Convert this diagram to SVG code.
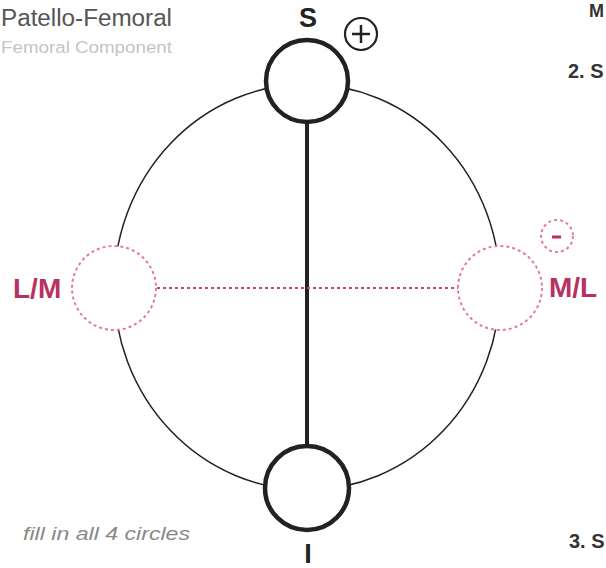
<svg xmlns="http://www.w3.org/2000/svg" width="606" height="568" viewBox="0 0 606 568">
<style>
.t{font-family:"Liberation Sans",Arial,sans-serif}
.b{font-weight:bold}
.pk{fill:#b8325f}
.dash{fill:#fff;stroke:#e27a9c;stroke-width:2;stroke-dasharray:3 3}
.thick{fill:#fff;stroke:#222;stroke-width:4.5}
</style>
<rect width="606" height="568" fill="#fff"/>
<g id="titles">
<text class="t" x="1" y="26" font-size="23" fill="#555" textLength="171" lengthAdjust="spacingAndGlyphs">Patello-Femoral</text>
<text class="t" x="1" y="53" font-size="16" fill="#c4c4c4" textLength="171" lengthAdjust="spacingAndGlyphs">Femoral Component</text>
<text class="t" x="23" y="540" font-size="19" font-style="italic" fill="#888" textLength="167" lengthAdjust="spacingAndGlyphs">fill in all 4 circles</text>
</g>
<g id="side-text">
<text class="t b" x="589" y="17" font-size="18" fill="#333">M</text>
<text class="t b" x="568" y="78" font-size="20" fill="#333">2. S</text>
<text class="t b" x="569" y="548" font-size="20" fill="#333">3. S</text>
</g>
<g id="connectors">
<ellipse cx="307" cy="287" rx="193" ry="203" fill="none" stroke="#222" stroke-width="1.5"/>
<line x1="307" y1="120" x2="307" y2="446" stroke="#222" stroke-width="4"/>
<line x1="157" y1="288" x2="458" y2="288" stroke="#c8466f" stroke-width="1.8" stroke-dasharray="3 3"/>
</g>
<g id="node-S">
<circle class="thick" cx="307" cy="81" r="41"/>
<text class="t b" x="308" y="27" font-size="27" text-anchor="middle" fill="#222">S</text>
</g>
<g id="node-plus">
<circle cx="361" cy="34" r="16" fill="none" stroke="#222" stroke-width="2.2"/>
<path d="M352 34H370M361 25V43" stroke="#222" stroke-width="2.5"/>
</g>
<g id="node-I">
<circle class="thick" cx="307" cy="488" r="42"/>
<text class="t b" x="308" y="563" font-size="27" text-anchor="middle" fill="#222">I</text>
</g>
<g id="node-LM">
<circle class="dash" cx="114" cy="288" r="42"/>
<text class="t b pk" x="13" y="298" font-size="28">L/M</text>
</g>
<g id="node-ML">
<circle class="dash" cx="500" cy="288" r="42"/>
<text class="t b pk" x="549" y="297" font-size="28">M/L</text>
</g>
<g id="node-minus">
<circle class="dash" cx="557" cy="236" r="16"/>
<path d="M552 237H561" stroke="#b8325f" stroke-width="3"/>
</g>
</svg>
